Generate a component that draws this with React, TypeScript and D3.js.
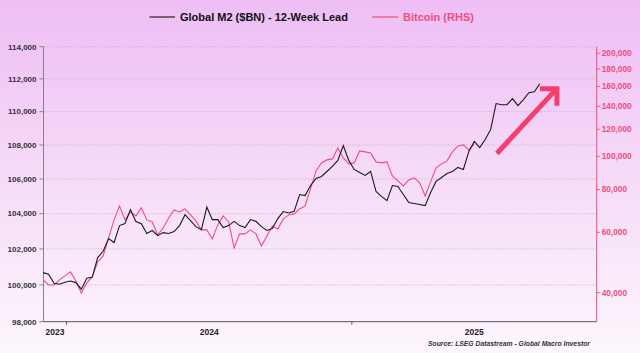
import * as d3 from "d3"

// weekly readings, first week starting 2 Dec 2023
const m2Values = [
  100680, 100590, 100090, 100040, 100150, 100220, 100130, 99770, 100370, 100420,
  101520, 101870, 102580, 102360, 103320, 103430, 104230, 103550, 103430, 102870,
  103040, 102750, 102920, 102870, 102980, 103320, 103940, 103600, 103260, 103090,
  104380, 103660, 103660, 103210, 103320, 103560, 103320, 103210, 103660, 103560,
  103260, 103040, 103150, 103720, 104120, 104040, 104130, 105100, 105040, 105620,
  106030, 106150, 106440, 106740, 107090, 107970, 107090, 106560, 106380, 106210,
  106440, 105280, 104990, 104750, 105620, 105570, 105100, 104640, 104580, 104520,
  104460, 105220, 105860, 106090, 106320, 106440, 106680, 106560, 107620, 108210,
  107850, 108330, 108930, 110490, 110420, 110420, 110790, 110360, 110730, 111150,
  111210, 111700,
]

const btcValues = [
  43570, 42120, 42120, 43570, 44760, 45980, 43280, 39920, 42700, 44450,
  49170, 51200, 57780, 65220, 71660, 65220, 68820, 67000, 70700, 65220,
  64350, 58960, 61800, 66100, 69760, 68820, 70230, 67450, 64780, 60980,
  60980, 57400, 63070, 67000, 64350, 54030, 59360, 59360, 60980, 59360,
  54760, 58570, 62640, 61390, 65660, 67450, 67910, 70230, 71660, 80330,
  90670, 95690, 97640, 98300, 105840, 98960, 95050, 95690, 103730, 103040,
  102350, 96330, 95690, 96330, 87680, 84780, 81980, 85350, 86510, 83650,
  76640, 84220, 92530, 95050, 96990, 103040, 107270, 108000, 104440, 108730,
]

const leftTicks = [98000, 100000, 102000, 104000, 106000, 108000, 110000, 112000, 114000]
const rightTicks = [40000, 60000, 80000, 100000, 120000, 140000, 160000, 180000, 200000]
const yearLabels = ["2023", "2024", "2025"]

const firstWeek = new Date(2023, 11, 2)
const m2Dates = m2Values.map((_, i) => d3.timeDay.offset(firstWeek, i * 7))
const btcDates = btcValues.map((_, i) => d3.timeDay.offset(firstWeek, i * 7))

// arrow annotation in data units
const arrowFrom = { date: new Date(2025, 6, 6), value: 107500 }
const arrowTo = { date: new Date(2025, 8, 21), value: 111400 }

const fmt = d3.format(",")

export default function App() {
  const width = 640
  const height = 353
  const left = 43.5
  const right = 596.7
  const top = 46.7
  const bottom = 321.7

  const x = d3
    .scaleTime()
    .domain([new Date(2023, 11, 2, 12), new Date(2025, 10, 11)])
    .range([left, right])
  const yL = d3.scaleLog().domain([98000, 114000]).range([bottom, top])
  const yR = d3.scaleLog().domain([32900, 209000]).range([bottom, top])

  const m2Line = d3
    .line<number>()
    .x((_, i) => x(m2Dates[i]))
    .y((d) => yL(d))
  const btcLine = d3
    .line<number>()
    .x((_, i) => x(btcDates[i]))
    .y((d) => yR(d))

  const yearStarts = [x.domain()[0], new Date(2024, 0, 1), new Date(2025, 0, 1), x.domain()[1]]

  const ax0 = x(arrowFrom.date)
  const ay0 = yL(arrowFrom.value)
  const ax1 = x(arrowTo.date)
  const ay1 = yL(arrowTo.value)

  const pink = "#f04d7c"

  return (
    <svg
      width={width}
      height={height}
      style={{ position: "fixed", left: 0, top: 0, fontFamily: "'Liberation Sans', Arial, sans-serif" }}
    >
      <defs>
        <linearGradient id="bg" x1="0" y1="0" x2="0" y2="1">
          <stop offset="0" stopColor="#eebef5" />
          <stop offset="0.5" stopColor="#f6dbf8" />
          <stop offset="1" stopColor="#fdf6fc" />
        </linearGradient>
      </defs>
      <rect width={width} height={height} fill="url(#bg)" />

      {/* legend */}
      <line x1={149.5} x2={175} y1={17} y2={17} stroke="#222" strokeWidth={1.2} />
      <text x={180} y={21} fontSize={11} fontWeight="bold" fill="#111">
        Global M2 ($BN) - 12-Week Lead
      </text>
      <line x1={372} x2={398} y1={17} y2={17} stroke={pink} strokeWidth={1.2} />
      <text x={403} y={21} fontSize={11} fontWeight="bold" fill={pink}>
        Bitcoin (RHS)
      </text>

      {/* grid */}
      {leftTicks.slice(1).map((t) => (
        <line
          key={t}
          x1={left}
          x2={right}
          y1={yL(t)}
          y2={yL(t)}
          stroke="#c4b6c6"
          strokeWidth={0.8}
          strokeDasharray="1.5,1.5"
        />
      ))}

      {/* left axis */}
      <line x1={left} x2={left} y1={top} y2={bottom} stroke="#8a7f8c" strokeWidth={1} />
      {leftTicks.map((t) => (
        <g key={t}>
          <line x1={left - 4} x2={left} y1={yL(t)} y2={yL(t)} stroke="#8a7f8c" />
          <text
            x={left - 7}
            y={yL(t)}
            dy="0.35em"
            textAnchor="end"
            fontSize={8}
            fontWeight="bold"
            fill="#333"
          >
            {fmt(t)}
          </text>
        </g>
      ))}

      {/* right axis */}
      <line x1={right} x2={right} y1={top} y2={bottom} stroke={pink} strokeWidth={1} />
      {rightTicks.map((t) => (
        <g key={t}>
          <line x1={right} x2={right + 3} y1={yR(t)} y2={yR(t)} stroke={pink} />
          <text x={right + 5} y={yR(t)} dy="0.35em" fontSize={8.3} fontWeight="bold" fill={pink}>
            {fmt(t)}
          </text>
        </g>
      ))}

      {/* bottom axis */}
      <line x1={left} x2={right} y1={bottom} y2={bottom} stroke="#555" strokeWidth={1} />
      {yearStarts.slice(1, 3).map((d, i) => (
        <line key={i} x1={x(d)} x2={x(d)} y1={bottom} y2={bottom + 3} stroke="#555" />
      ))}
      {yearLabels.map((lab, i) => (
        <text
          key={lab}
          x={(x(yearStarts[i]) + x(yearStarts[i + 1])) / 2}
          y={335}
          textAnchor="middle"
          fontSize={8.5}
          fontWeight="bold"
          fill="#222"
        >
          {lab}
        </text>
      ))}

      {/* series */}
      <path d={btcLine(btcValues) ?? ""} fill="none" stroke={pink} strokeWidth={1.1} />
      <path d={m2Line(m2Values) ?? ""} fill="none" stroke="#1a1a1a" strokeWidth={1.1} />

      {/* arrow */}
      <g stroke="#f23f6b" strokeWidth={5} fill="none" strokeLinecap="butt">
        <line x1={ax0} y1={ay0} x2={ax1 - 2} y2={ay1 + 2} />
        <polyline points={`${ax1 - 17},${ay1} ${ax1},${ay1} ${ax1},${ay1 + 17}`} />
      </g>

      <text x={590} y={346} textAnchor="end" fontSize={6.8} fontStyle="italic" fontWeight="bold" fill="#333">
        Source: LSEG Datastream - Global Macro Investor
      </text>
    </svg>
  )
}
